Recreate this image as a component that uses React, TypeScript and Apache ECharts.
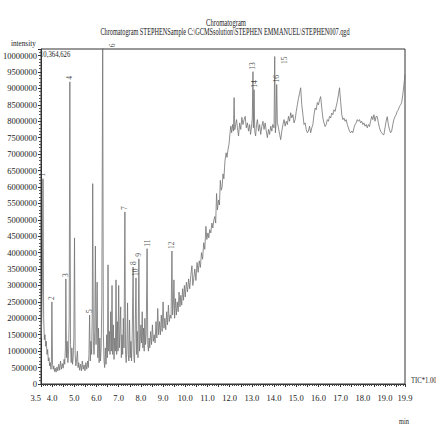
import { useEffect, useRef } from "react";
import * as echarts from "echarts";

const titleText = "Chromatogram";
const subtitleText =
  "Chromatogram STEPHENSample C:\\GCMSsolution\\STEPHEN EMMANUEL\\STEPHEN007.qgd";
const yAxisName = "intensity";
const xAxisUnit = "min";
const maxIntensityLabel = "10,364,626";
const traceLabel = "TIC*1.00";

const timeMin = 3.5;
const timeMax = 19.9;
const timeStep = 0.5;
const intensityMax = 10200000;
const intensityStep = 500000;
const timeTickLabels = [3.5, 4, 5, 6, 7, 8, 9, 10, 11, 12, 13, 14, 15, 16, 17, 18, 19, 19.9];

const peakNumbers = [1, 2, 3, 4, 5, 6, 7, 8, 9, 10, 11, 12, 13, 14, 15, 16];
const peakTimes = [3.59, 3.99, 4.62, 4.8, 5.69, 6.28, 7.28, 7.65, 7.91, 7.78, 8.28, 9.4, 13.05, 13.1, 14.03, 14.12];
const peakHeights = [
  6250000, 2500000, 3200000, 9200000, 2100000, 10364626, 5240000, 3560000,
  3810000, 3230000, 4120000, 4050000, 9510000, 8960000, 9970000, 9120000,
];

// Total ion chromatogram: [retention time (min), intensity]
const ticTrace: [number, number][] = [
  [3.5, 1400000], [3.53, 1900000], [3.56, 3000000], [3.59, 6250000], [3.62, 2000000],
  [3.65, 1350000], [3.68, 1500000], [3.71, 1150000], [3.74, 1300000], [3.77, 900000],
  [3.8, 1050000], [3.83, 700000], [3.86, 800000], [3.89, 550000], [3.92, 650000],
  [3.95, 450000], [3.97, 700000], [3.99, 2500000], [4.02, 600000], [4.05, 450000],
  [4.08, 550000], [4.11, 380000], [4.14, 480000], [4.18, 360000], [4.22, 520000],
  [4.26, 400000], [4.3, 600000], [4.34, 420000], [4.38, 700000], [4.42, 450000],
  [4.46, 620000], [4.5, 480000], [4.54, 750000], [4.57, 600000], [4.6, 1100000],
  [4.62, 3200000], [4.65, 800000], [4.68, 1300000], [4.71, 650000], [4.74, 900000],
  [4.77, 2000000], [4.8, 9200000], [4.83, 1200000], [4.86, 650000], [4.89, 1100000],
  [4.92, 600000], [4.95, 800000], [4.98, 1400000], [5.01, 4450000], [5.04, 900000],
  [5.07, 550000], [5.1, 700000], [5.14, 1000000], [5.17, 500000], [5.2, 650000],
  [5.24, 420000], [5.28, 600000], [5.32, 400000], [5.36, 700000], [5.4, 450000],
  [5.44, 580000], [5.48, 400000], [5.52, 650000], [5.56, 450000], [5.6, 700000],
  [5.63, 500000], [5.66, 900000], [5.69, 2100000], [5.72, 700000], [5.75, 1300000],
  [5.78, 900000], [5.81, 2200000], [5.83, 6100000], [5.86, 1300000], [5.89, 900000],
  [5.92, 1600000], [5.95, 4200000], [5.98, 1200000], [6.01, 2000000], [6.03, 3100000],
  [6.06, 800000], [6.09, 1700000], [6.12, 650000], [6.15, 1400000], [6.18, 700000],
  [6.21, 1100000], [6.24, 2500000], [6.28, 10364626], [6.31, 1500000], [6.34, 700000],
  [6.37, 500000], [6.4, 1100000], [6.43, 600000], [6.46, 1500000], [6.49, 800000],
  [6.52, 3630000], [6.55, 1000000], [6.58, 1600000], [6.61, 900000], [6.64, 2200000],
  [6.67, 1000000], [6.7, 3000000], [6.73, 900000], [6.76, 1800000], [6.79, 750000],
  [6.82, 1400000], [6.85, 1000000], [6.88, 3170000], [6.91, 900000], [6.94, 1900000],
  [6.97, 1000000], [7.0, 3000000], [7.03, 1100000], [7.06, 1600000], [7.09, 2350000],
  [7.12, 800000], [7.15, 1500000], [7.18, 900000], [7.21, 2000000], [7.24, 1100000],
  [7.28, 5240000], [7.31, 900000], [7.34, 650000], [7.37, 1200000], [7.4, 2470000],
  [7.43, 900000], [7.46, 700000], [7.49, 1950000], [7.52, 800000], [7.55, 1300000],
  [7.58, 700000], [7.61, 1500000], [7.65, 3560000], [7.68, 900000], [7.71, 650000],
  [7.74, 1400000], [7.78, 3230000], [7.81, 900000], [7.84, 1600000], [7.87, 800000],
  [7.91, 3810000], [7.94, 1000000], [7.97, 1300000], [8.0, 1800000], [8.03, 1250000],
  [8.06, 2200000], [8.09, 1100000], [8.12, 1700000], [8.15, 1000000], [8.18, 2000000],
  [8.21, 1200000], [8.24, 1500000], [8.28, 4120000], [8.31, 1200000], [8.34, 1000000],
  [8.37, 1400000], [8.4, 1100000], [8.44, 1600000], [8.48, 1200000], [8.52, 1800000],
  [8.56, 1300000], [8.6, 1500000], [8.64, 1250000], [8.68, 1900000], [8.72, 1400000],
  [8.76, 2300000], [8.8, 1500000], [8.84, 1900000], [8.88, 1500000], [8.92, 2100000],
  [8.96, 1600000], [9.0, 2500000], [9.04, 1700000], [9.08, 2000000], [9.12, 1650000],
  [9.16, 2200000], [9.2, 1800000], [9.24, 2400000], [9.28, 1900000], [9.32, 2100000],
  [9.36, 2000000], [9.4, 4050000], [9.43, 2100000], [9.46, 2400000], [9.49, 3170000],
  [9.52, 2000000], [9.56, 2600000], [9.6, 2100000], [9.64, 2500000], [9.68, 2200000],
  [9.72, 2800000], [9.76, 2350000], [9.8, 2700000], [9.84, 2400000], [9.88, 2900000],
  [9.92, 2550000], [9.96, 3000000], [10.0, 2650000], [10.05, 3100000], [10.1, 2800000],
  [10.15, 3200000], [10.2, 2900000], [10.25, 3300000], [10.3, 3600000], [10.34, 3000000],
  [10.38, 3200000], [10.43, 3500000], [10.48, 3150000], [10.53, 3700000], [10.58, 3400000],
  [10.63, 3750000], [10.68, 3550000], [10.73, 4000000], [10.78, 3800000], [10.83, 4300000],
  [10.88, 4100000], [10.93, 4800000], [10.97, 4400000], [11.02, 4600000], [11.06, 4450000],
  [11.1, 4700000], [11.15, 4600000], [11.2, 4900000], [11.24, 4750000], [11.29, 5000000],
  [11.33, 5100000], [11.37, 4900000], [11.41, 5800000], [11.45, 5300000], [11.5, 5600000],
  [11.54, 5450000], [11.58, 6200000], [11.62, 5900000], [11.66, 6000000], [11.7, 6400000],
  [11.74, 6250000], [11.79, 6800000], [11.84, 7040000], [11.88, 6900000], [11.93, 7150000],
  [11.97, 7300000], [12.01, 7600000], [12.05, 7850000], [12.09, 7650000], [12.13, 7900000],
  [12.17, 7700000], [12.2, 8720000], [12.23, 7740000], [12.27, 7900000], [12.31, 8050000],
  [12.35, 7800000], [12.4, 7550000], [12.45, 7950000], [12.5, 7750000], [12.55, 8120000],
  [12.6, 7900000], [12.65, 8050000], [12.7, 8150000], [12.75, 7800000], [12.8, 7950000],
  [12.85, 7700000], [12.9, 7900000], [12.94, 7600000], [12.98, 7800000], [13.02, 8100000],
  [13.05, 9510000], [13.07, 7800000], [13.1, 8960000], [13.13, 7700000], [13.17, 7550000],
  [13.21, 7900000], [13.25, 8050000], [13.3, 7700000], [13.35, 7900000], [13.4, 7600000],
  [13.45, 7850000], [13.5, 8000000], [13.55, 7750000], [13.6, 7950000], [13.65, 7700000],
  [13.7, 7500000], [13.75, 7750000], [13.8, 7600000], [13.85, 7850000], [13.9, 7700000],
  [13.94, 7900000], [14.0, 7800000], [14.03, 9970000], [14.06, 7650000], [14.09, 7900000],
  [14.12, 9120000], [14.15, 7960000], [14.2, 7800000], [14.25, 7600000], [14.3, 7440000],
  [14.35, 7700000], [14.4, 7900000], [14.45, 8050000], [14.5, 7850000], [14.55, 8000000],
  [14.6, 7900000], [14.65, 8150000], [14.7, 8000000], [14.75, 8260000], [14.8, 8100000],
  [14.85, 8200000], [14.9, 7950000], [14.95, 8050000], [15.0, 8300000], [15.05, 8500000],
  [15.1, 8700000], [15.15, 8850000], [15.2, 9020000], [15.25, 8500000], [15.3, 8200000],
  [15.35, 7900000], [15.4, 7950000], [15.45, 7750000], [15.5, 7650000], [15.55, 7700000],
  [15.6, 7850000], [15.65, 7650000], [15.7, 7800000], [15.75, 7900000], [15.8, 8200000],
  [15.85, 8400000], [15.9, 8350000], [15.95, 8570000], [16.0, 8500000], [16.05, 8650000],
  [16.1, 8750000], [16.15, 8400000], [16.2, 8100000], [16.25, 7950000], [16.3, 7840000],
  [16.35, 7900000], [16.4, 8050000], [16.45, 8000000], [16.5, 8150000], [16.55, 8100000],
  [16.6, 8250000], [16.65, 8200000], [16.7, 8350000], [16.75, 8300000], [16.8, 8450000],
  [16.85, 8600000], [16.9, 8800000], [16.95, 9020000], [17.0, 8600000], [17.05, 8200000],
  [17.1, 8050000], [17.15, 8100000], [17.2, 8000000], [17.25, 8050000], [17.3, 7900000],
  [17.35, 7800000], [17.4, 7700000], [17.45, 7650000], [17.5, 7700000], [17.55, 7650000],
  [17.6, 7800000], [17.65, 7900000], [17.7, 7950000], [17.75, 8050000], [17.8, 8000000],
  [17.85, 8050000], [17.9, 7950000], [17.95, 8000000], [18.0, 7900000], [18.05, 7950000],
  [18.1, 7850000], [18.15, 7900000], [18.2, 7800000], [18.25, 7900000], [18.3, 7840000],
  [18.35, 8000000], [18.4, 8150000], [18.45, 8050000], [18.5, 8200000], [18.55, 8000000],
  [18.6, 8150000], [18.65, 8140000], [18.7, 7950000], [18.75, 7800000], [18.8, 7700000],
  [18.85, 7650000], [18.9, 7600000], [18.95, 7590000], [19.0, 7800000], [19.05, 8000000],
  [19.1, 8140000], [19.15, 7900000], [19.2, 7750000], [19.25, 7650000], [19.3, 7700000],
  [19.35, 7900000], [19.4, 8050000], [19.45, 8140000], [19.5, 8200000], [19.55, 8300000],
  [19.6, 8350000], [19.65, 8450000], [19.7, 8500000], [19.75, 8570000], [19.8, 8800000],
  [19.85, 9100000], [19.9, 9420000],
];

const serif = '"Liberation Serif", "Times New Roman", serif';
const ink = "#222";

function buildOption(): echarts.EChartsCoreOption {
  const peakData = peakNumbers.map((n, i) => {
    const nearTop = peakHeights[i] > 9900000;
    return {
      name: String(n),
      value: [peakTimes[i], peakHeights[i]],
      label: nearTop
        ? { position: "right", align: "right", distance: 3, offset: [0, 7] }
        : undefined,
    };
  });

  return {
    animation: false,
    backgroundColor: "#ffffff",
    grid: {
      left: 37,
      right: 31,
      top: 49,
      bottom: 44,
      show: true,
      borderColor: "#333",
      borderWidth: 1,
      backgroundColor: "transparent",
    },
    xAxis: {
      type: "value",
      min: timeMin,
      max: timeMax,
      interval: timeStep,
      axisLine: { lineStyle: { color: "#333", width: 1 } },
      axisTick: { length: 3, lineStyle: { color: "#333" } },
      minorTick: { show: true, splitNumber: 5, length: 2, lineStyle: { color: "#444" } },
      splitLine: { show: false },
      axisLabel: {
        margin: 9,
        color: ink,
        fontFamily: serif,
        fontSize: 8.5,
        showMinLabel: true,
        showMaxLabel: true,
        alignMinLabel: "right",
        formatter: (v: number) =>
          timeTickLabels.some((t) => Math.abs(t - v) < 1e-6) ? v.toFixed(1) : "",
      },
    },
    yAxis: {
      type: "value",
      min: 0,
      max: intensityMax,
      interval: intensityStep,
      axisLine: { show: true, lineStyle: { color: "#333", width: 1 } },
      axisTick: { show: true, length: 3, lineStyle: { color: "#333" } },
      minorTick: { show: true, splitNumber: 5, length: 2, lineStyle: { color: "#555" } },
      splitLine: { show: false },
      axisLabel: {
        margin: 4,
        color: ink,
        fontFamily: serif,
        fontSize: 8.5,
        showMaxLabel: false,
        formatter: (v: number) => String(v),
      },
    },
    series: [
      {
        type: "line",
        data: ticTrace,
        showSymbol: false,
        symbol: "none",
        lineStyle: { color: "#727272", width: 0.8 },
        clip: true,
        z: 2,
      },
      {
        type: "scatter",
        data: peakData,
        symbolSize: 0,
        clip: false,
        silent: true,
        z: 3,
        label: {
          show: true,
          formatter: "{b}",
          position: "top",
          distance: 2,
          rotate: 90,
          align: "left",
          verticalAlign: "middle",
          fontFamily: serif,
          fontSize: 7.5,
          color: ink,
        },
      },
    ],
    graphic: [
      {
        type: "text",
        x: 226,
        y: 22,
        scaleX: 0.66,
        style: {
          text: titleText,
          font: `10px ${serif}`,
          fill: ink,
          align: "center",
          verticalAlign: "middle",
          textAlign: "center",
          textVerticalAlign: "middle",
        },
      },
      {
        type: "text",
        x: 225,
        y: 32,
        scaleX: 0.66,
        style: {
          text: subtitleText,
          font: `9.5px ${serif}`,
          fill: ink,
          align: "center",
          verticalAlign: "middle",
          textAlign: "center",
          textVerticalAlign: "middle",
        },
      },
      {
        type: "text",
        x: 11,
        y: 43,
        scaleX: 0.8,
        style: {
          text: yAxisName,
          font: `9px ${serif}`,
          fill: ink,
          align: "left",
          verticalAlign: "middle",
          textAlign: "left",
          textVerticalAlign: "middle",
        },
      },
      {
        type: "text",
        x: 40,
        y: 54,
        scaleX: 0.75,
        style: {
          text: maxIntensityLabel,
          font: `9px ${serif}`,
          fill: ink,
          align: "left",
          verticalAlign: "middle",
          textAlign: "left",
          textVerticalAlign: "middle",
        },
      },
      {
        type: "text",
        x: 411,
        y: 380,
        scaleX: 0.78,
        style: {
          text: traceLabel,
          font: `8.5px ${serif}`,
          fill: ink,
          align: "left",
          verticalAlign: "middle",
          textAlign: "left",
          textVerticalAlign: "middle",
        },
      },
      {
        type: "text",
        x: 399,
        y: 422,
        scaleX: 0.85,
        style: {
          text: xAxisUnit,
          font: `7.5px ${serif}`,
          fill: ink,
          align: "left",
          verticalAlign: "middle",
          textAlign: "left",
          textVerticalAlign: "middle",
        },
      },
    ],
  };
}

export default function App() {
  const ref = useRef<HTMLDivElement>(null);
  useEffect(() => {
    if (!ref.current) return;
    const chart = echarts.init(ref.current, null, { renderer: "svg" });
    chart.setOption(buildOption());
    return () => chart.dispose();
  }, []);
  return (
    <div
      ref={ref}
      style={{ position: "absolute", left: 0, top: 0, width: 436, height: 428, background: "#fff" }}
    />
  );
}
